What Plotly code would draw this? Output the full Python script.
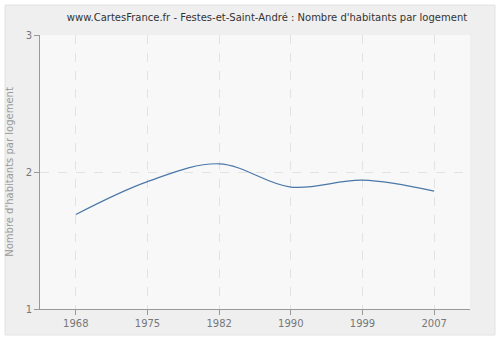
import plotly.graph_objects as go

years = ["1968", "1975", "1982", "1990", "1999", "2007"]
values = [1.69, 1.93, 2.06, 1.89, 1.94, 1.86]
y_ticks = [1, 2, 3]

title_text = "www.CartesFrance.fr - Festes-et-Saint-André : Nombre d'habitants par logement"
y_title = "Nombre d'habitants par logement"

fig = go.Figure()
fig.add_trace(go.Scatter(
    x=years, y=values, mode="lines",
    line=dict(color="#4a77a8", width=1.2, shape="spline", smoothing=1),
    hoverinfo="skip", showlegend=False,
))

W, H = 500, 340
L, R, T, B = 40, 30, 35, 31
pw, ph = W - L - R, H - T - B

def px_x(v):
    return (v - L) / pw

def px_y(v):
    return (H - B - v) / ph

fig.add_shape(type="rect", xref="paper", yref="paper",
              x0=px_x(5), x1=px_x(495), y0=px_y(335), y1=px_y(5),
              fillcolor="#efefef", line=dict(color="#e2e2e2", width=1), layer="below")
fig.add_shape(type="rect", xref="paper", yref="paper",
              x0=0, x1=1, y0=0, y1=1,
              fillcolor="#f8f8f8", line=dict(width=0), layer="below")

fig.update_layout(
    width=W, height=H,
    margin=dict(l=L, r=R, t=T, b=B, autoexpand=False),
    paper_bgcolor="white",
    plot_bgcolor="#f8f8f8",
    font=dict(family="DejaVu Sans, Verdana, sans-serif", color="#888"),
    title=dict(text=title_text, x=0.534, xref="container", xanchor="center",
               y=1 - 17 / H, yref="container", yanchor="middle",
               font=dict(size=10, color="#333")),
    xaxis=dict(type="category", range=[-0.5, 5.5], showline=True, linecolor="#999",
               linewidth=1, ticks="outside", ticklen=5, tickcolor="#999",
               showgrid=True, gridcolor="#e2e2e2", griddash="dash", gridwidth=1,
               tickfont=dict(size=10, color="#777"), zeroline=False, fixedrange=True,
               automargin=False),
    yaxis=dict(range=[1, 3], tickvals=y_ticks, showline=True, linecolor="#999",
               linewidth=1, ticks="outside", ticklen=5, tickcolor="#999",
               showgrid=True, gridcolor="#e2e2e2", griddash="dash", gridwidth=1,
               tickfont=dict(size=10, color="#777"), zeroline=False,
               title=dict(text=y_title, font=dict(size=10, color="#999"), standoff=10),
               fixedrange=True, automargin=False),
)

fig.write_html("out.html")
